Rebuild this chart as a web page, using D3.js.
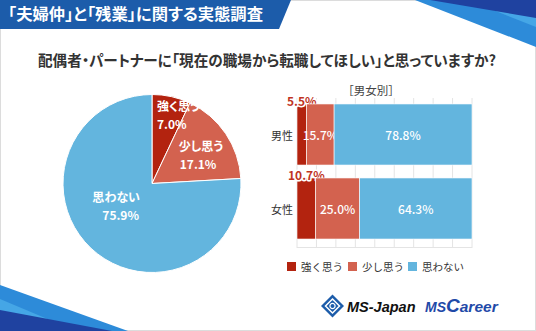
<!DOCTYPE html>
<html><head><meta charset="utf-8">
<script src="https://cdn.jsdelivr.net/npm/d3@7/dist/d3.min.js"></script>
<style>html,body{margin:0;padding:0;background:#fff;}svg{display:block;}
.palt{font-feature-settings:"palt" 1;}</style>
</head><body>
<script>
// ---- data ----
const headerText = "「夫婦仲」と「残業」に関する実態調査";
const titleText = "配偶者・パートナーに「現在の職場から転職してほしい」と思っていますか?";
const answers = ["強く思う", "少し思う", "思わない"];
const totalValues = [7.0, 17.1, 75.9];
const genders = ["男性", "女性"];
const maleValues = [5.5, 15.7, 78.8];
const femaleValues = [10.7, 25.0, 64.3];
const subTitle = "［男女別］";
const gridDivisions = 9;

const colors = ["#b3230f", "#d3624f", "#63b5de"];
const W = 536, H = 331;
const font = "'Noto Sans CJK JP','Noto Sans',sans-serif";

const svg = d3.select("body").append("svg").attr("width", W).attr("height", H)
  .style("font-family", font);

svg.append("rect").attr("x",0.5).attr("y",0.5).attr("width",W-1).attr("height",H-1)
  .attr("fill","#fff").attr("stroke","#dcdcdc");

// ---- decorations ----
svg.append("polygon").attr("points","0,0 291,0 279,29 0,29").attr("fill","#1c5caa");
svg.append("text").attr("class","palt").attr("x",8).attr("y",20).attr("fill","#fff").attr("font-size",15.5)
  .attr("font-weight","bold").attr("textLength",255).attr("lengthAdjust","spacingAndGlyphs").text(headerText);

svg.append("polygon").attr("points","415,0 536,0 536,47").attr("fill","#2d8bd9");
svg.append("polygon").attr("points","468,0 536,0 536,27").attr("fill","#45a6e6");
svg.append("polygon").attr("points","430,0 536,0 536,18").attr("fill","#1f42a0");

svg.append("polygon").attr("points","0,285 128,331 0,331").attr("fill","#2d8bd9");
svg.append("polygon").attr("points","0,299 76,331 0,331").attr("fill","#45a6e6");
svg.append("polygon").attr("points","0,310 112,331 0,331").attr("fill","#1f42a0");

// ---- title ----
svg.append("text").attr("class","palt").attr("x",38).attr("y",65.5)
  .attr("fill","#333").attr("font-size",15).attr("font-weight","bold")
  .attr("textLength",458).attr("lengthAdjust","spacingAndGlyphs").text(titleText);

// ---- pie ----
const cx = 152, cy = 183.5, R = 89;
const pie = d3.pie().sort(null).value(d => d);
const arcs = pie(totalValues);
const arc = d3.arc().innerRadius(0).outerRadius(R);
const gPie = svg.append("g").attr("transform",`translate(${cx},${cy})`);
gPie.selectAll("path").data(arcs).join("path")
  .attr("d", arc).attr("fill",(d,i)=>colors[i]).attr("stroke","#fff").attr("stroke-width",1);

const labelCfg = [
  {r:70, anchor:"start", base:-4},
  {r:58, anchor:"middle", base:0},
  {r:46, anchor:"end", base:-15}
];
arcs.forEach((a,i)=>{
  const c = d3.arc().innerRadius(labelCfg[i].r).outerRadius(labelCfg[i].r).centroid(a);
  const cfg = labelCfg[i];
  let x = c[0];
  if (i===0) x = 5;
  if (i===1) x = c[0] + 1;
  if (i===2) x = -13;
  const t = gPie.append("text").attr("class","palt").attr("fill","#fff").attr("font-size",12).attr("font-weight","bold")
    .attr("text-anchor", cfg.anchor);
  t.append("tspan").attr("x", x + (i===2?1:0)).attr("y", c[1]+cfg.base).text(answers[i]);
  t.append("tspan").attr("x", x - (i===1?3:0)).attr("y", c[1]+cfg.base+18)
    .text(totalValues[i].toFixed(1)+"%");
});

// ---- bars ----
const xs = d3.scaleLinear().domain([0,100]).range([297,472]);
const ys = d3.scaleBand().domain(genders).range([97.5,245.5]).paddingInner(0.175).paddingOuter(0.0875);
const gBar = svg.append("g");
const grid = d3.range(gridDivisions+1).map(i=>i*100/gridDivisions);
gBar.selectAll("line.g").data(grid).join("line").attr("class","g")
  .attr("x1",d=>xs(d)).attr("x2",d=>xs(d)).attr("y1",98).attr("y2",248)
  .attr("stroke","#e4e4e4").attr("stroke-width",1);
gBar.append("line").attr("x1",xs(0)).attr("x2",xs(100)).attr("y1",247.5).attr("y2",247.5)
  .attr("stroke","#e4e4e4");

svg.append("text").attr("x",371).attr("y",95).attr("text-anchor","middle")
  .attr("fill","#444").attr("font-size",11.5).text(subTitle);

const rows = [maleValues, femaleValues];
rows.forEach((vals,ri)=>{
  const g = genders[ri];
  let acc = 0;
  vals.forEach((v,i)=>{
    const x0 = xs(acc), x1 = xs(acc+v);
    gBar.append("rect").attr("x",x0).attr("y",ys(g)).attr("width",x1-x0).attr("height",ys.bandwidth())
      .attr("fill",colors[i]).attr("stroke","#fff").attr("stroke-width",0.6);
    const mid = (x0+x1)/2;
    if (i===0) {
      gBar.append("text").attr("x",mid).attr("y",ys(g)-3).attr("dominant-baseline","central")
        .attr("text-anchor","middle").attr("font-size",12).attr("font-weight","bold")
        .attr("fill","#c0341f").attr("stroke","#fff").attr("stroke-width",3)
        .attr("stroke-linejoin","round").attr("paint-order","stroke")
        .text(v.toFixed(1)+"%");
    } else {
      gBar.append("text").attr("x",mid).attr("y",ys(g)+ys.bandwidth()/2).attr("dominant-baseline","central")
        .attr("text-anchor","middle").attr("font-size",12).attr("font-weight",500)
        .attr("fill","#fff").text(v.toFixed(1)+"%");
    }
    acc += v;
  });
  svg.append("text").attr("x",293).attr("y",ys(g)+ys.bandwidth()/2).attr("dominant-baseline","central")
    .attr("text-anchor","end").attr("font-size",11).attr("fill","#333").text(g);
});

// ---- legend ----
const legX = [287, 348, 408];
answers.forEach((a,i)=>{
  svg.append("rect").attr("x",legX[i]).attr("y",262).attr("width",9).attr("height",9).attr("fill",colors[i]);
  svg.append("text").attr("x",legX[i]+14).attr("y",266.5).attr("dominant-baseline","central")
    .attr("font-size",10.5).attr("fill","#333").text(a);
});

// ---- logos ----
const lg = svg.append("g").attr("transform","translate(332.5,306)");
lg.append("polygon").attr("points","0,-11.5 11.5,0 0,11.5 -11.5,0").attr("fill","#1c5caa");
lg.append("polygon").attr("points","0,-7 7,0 0,7 -7,0").attr("fill","none").attr("stroke","#fff").attr("stroke-width",1.5);
lg.append("circle").attr("r",2.6).attr("fill","none").attr("stroke","#fff").attr("stroke-width",1.2);
svg.append("text").attr("x",347).attr("y",311.5).attr("font-family","'Liberation Sans',Arial,sans-serif")
  .attr("font-size",14.5).attr("font-weight","bold").attr("font-style","italic").attr("fill","#111").text("MS-Japan");
const mc = svg.append("text").attr("x",425).attr("y",312).attr("font-family","'Liberation Sans',Arial,sans-serif")
  .attr("font-weight","bold").attr("font-style","italic").attr("fill","#1f4aa8");
mc.append("tspan").attr("font-size",14).text("MS");
mc.append("tspan").attr("font-size",19).text("C");
mc.append("tspan").attr("font-size",15.5).text("areer");
</script>
</body></html>
